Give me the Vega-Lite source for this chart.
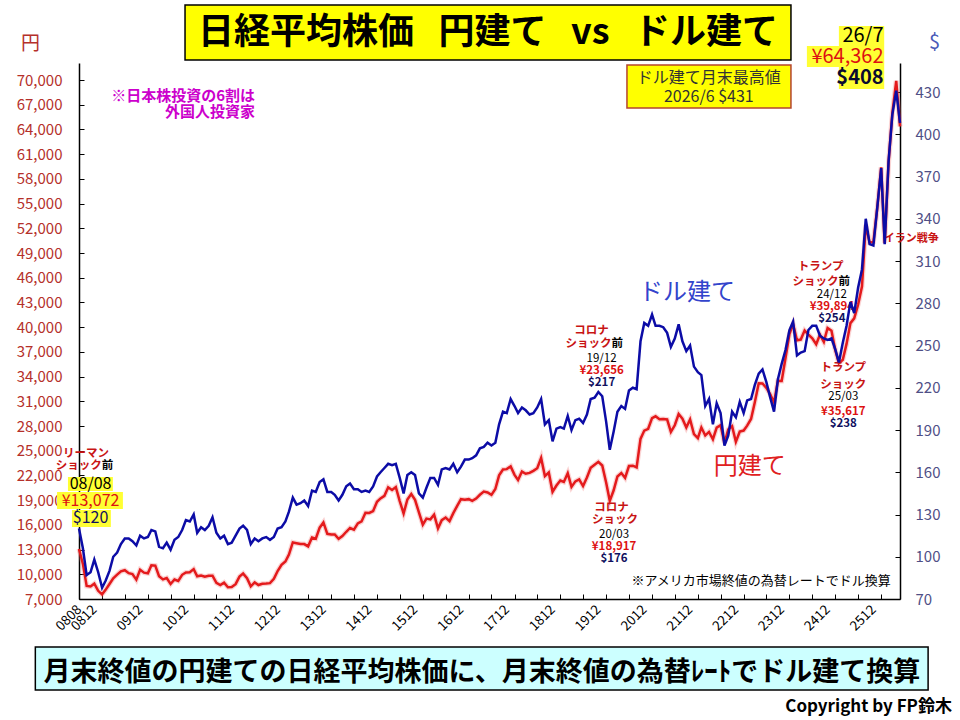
{
  "$schema": "https://vega.github.io/schema/vega-lite/v6.json",
  "width": 821,
  "height": 536,
  "autosize": {"type": "none"},
  "padding": {"left": 79, "top": 63, "right": 60, "bottom": 121},
  "background": "white",
  "config": {
    "view": {"stroke": null},
    "font": "Noto Sans CJK JP",
    "axis": {"labelFont": "Noto Sans CJK JP", "titleFont": "Noto Sans CJK JP"}
  },
  "datasets": {
    "nikkei": [
      {"date": "2008/08/01", "yen": 13072, "usd": 120},
      {"date": "2008/09/01", "yen": 11260, "usd": 106},
      {"date": "2008/10/01", "yen": 8577, "usd": 87},
      {"date": "2008/11/01", "yen": 8512, "usd": 89},
      {"date": "2008/12/01", "yen": 8860, "usd": 98},
      {"date": "2009/01/01", "yen": 7994, "usd": 89},
      {"date": "2009/02/01", "yen": 7568, "usd": 78},
      {"date": "2009/03/01", "yen": 8110, "usd": 83},
      {"date": "2009/04/01", "yen": 8828, "usd": 90},
      {"date": "2009/05/01", "yen": 9523, "usd": 100},
      {"date": "2009/06/01", "yen": 9958, "usd": 103},
      {"date": "2009/07/01", "yen": 10357, "usd": 109},
      {"date": "2009/08/01", "yen": 10493, "usd": 113},
      {"date": "2009/09/01", "yen": 10133, "usd": 113},
      {"date": "2009/10/01", "yen": 10035, "usd": 111},
      {"date": "2009/11/01", "yen": 9345, "usd": 108},
      {"date": "2009/12/01", "yen": 10546, "usd": 115},
      {"date": "2010/01/01", "yen": 10198, "usd": 113},
      {"date": "2010/02/01", "yen": 10126, "usd": 114},
      {"date": "2010/03/01", "yen": 11090, "usd": 119},
      {"date": "2010/04/01", "yen": 11057, "usd": 118},
      {"date": "2010/05/01", "yen": 9768, "usd": 107},
      {"date": "2010/06/01", "yen": 9383, "usd": 106},
      {"date": "2010/07/01", "yen": 9537, "usd": 110},
      {"date": "2010/08/01", "yen": 8824, "usd": 105},
      {"date": "2010/09/01", "yen": 9369, "usd": 112},
      {"date": "2010/10/01", "yen": 9202, "usd": 114},
      {"date": "2010/11/01", "yen": 9937, "usd": 119},
      {"date": "2010/12/01", "yen": 10229, "usd": 126},
      {"date": "2011/01/01", "yen": 10238, "usd": 125},
      {"date": "2011/02/01", "yen": 10624, "usd": 130},
      {"date": "2011/03/01", "yen": 9755, "usd": 117},
      {"date": "2011/04/01", "yen": 9850, "usd": 121},
      {"date": "2011/05/01", "yen": 9694, "usd": 119},
      {"date": "2011/06/01", "yen": 9816, "usd": 122},
      {"date": "2011/07/01", "yen": 9833, "usd": 128},
      {"date": "2011/08/01", "yen": 8955, "usd": 117},
      {"date": "2011/09/01", "yen": 8700, "usd": 113},
      {"date": "2011/10/01", "yen": 8988, "usd": 115},
      {"date": "2011/11/01", "yen": 8434, "usd": 109},
      {"date": "2011/12/01", "yen": 8455, "usd": 110},
      {"date": "2012/01/01", "yen": 8803, "usd": 115},
      {"date": "2012/02/01", "yen": 9723, "usd": 120},
      {"date": "2012/03/01", "yen": 10084, "usd": 122},
      {"date": "2012/04/01", "yen": 9521, "usd": 119},
      {"date": "2012/05/01", "yen": 8543, "usd": 109},
      {"date": "2012/06/01", "yen": 9007, "usd": 113},
      {"date": "2012/07/01", "yen": 8695, "usd": 111},
      {"date": "2012/08/01", "yen": 8840, "usd": 113},
      {"date": "2012/09/01", "yen": 8870, "usd": 114},
      {"date": "2012/10/01", "yen": 8928, "usd": 112},
      {"date": "2012/11/01", "yen": 9446, "usd": 114},
      {"date": "2012/12/01", "yen": 10395, "usd": 120},
      {"date": "2013/01/01", "yen": 11139, "usd": 121},
      {"date": "2013/02/01", "yen": 11559, "usd": 125},
      {"date": "2013/03/01", "yen": 12398, "usd": 132},
      {"date": "2013/04/01", "yen": 13861, "usd": 142},
      {"date": "2013/05/01", "yen": 13775, "usd": 137},
      {"date": "2013/06/01", "yen": 13677, "usd": 138},
      {"date": "2013/07/01", "yen": 13668, "usd": 140},
      {"date": "2013/08/01", "yen": 13389, "usd": 136},
      {"date": "2013/09/01", "yen": 14456, "usd": 147},
      {"date": "2013/10/01", "yen": 14328, "usd": 146},
      {"date": "2013/11/01", "yen": 15662, "usd": 153},
      {"date": "2013/12/01", "yen": 16291, "usd": 155},
      {"date": "2014/01/01", "yen": 14915, "usd": 146},
      {"date": "2014/02/01", "yen": 14841, "usd": 146},
      {"date": "2014/03/01", "yen": 14828, "usd": 144},
      {"date": "2014/04/01", "yen": 14304, "usd": 140},
      {"date": "2014/05/01", "yen": 14632, "usd": 144},
      {"date": "2014/06/01", "yen": 15162, "usd": 150},
      {"date": "2014/07/01", "yen": 15621, "usd": 152},
      {"date": "2014/08/01", "yen": 15425, "usd": 148},
      {"date": "2014/09/01", "yen": 16174, "usd": 148},
      {"date": "2014/10/01", "yen": 16414, "usd": 146},
      {"date": "2014/11/01", "yen": 17460, "usd": 147},
      {"date": "2014/12/01", "yen": 17451, "usd": 146},
      {"date": "2015/01/01", "yen": 17674, "usd": 150},
      {"date": "2015/02/01", "yen": 18798, "usd": 157},
      {"date": "2015/03/01", "yen": 19207, "usd": 160},
      {"date": "2015/04/01", "yen": 19520, "usd": 163},
      {"date": "2015/05/01", "yen": 20563, "usd": 166},
      {"date": "2015/06/01", "yen": 20236, "usd": 165},
      {"date": "2015/07/01", "yen": 20585, "usd": 166},
      {"date": "2015/08/01", "yen": 18890, "usd": 156},
      {"date": "2015/09/01", "yen": 17388, "usd": 145},
      {"date": "2015/10/01", "yen": 19083, "usd": 158},
      {"date": "2015/11/01", "yen": 19747, "usd": 160},
      {"date": "2015/12/01", "yen": 19034, "usd": 158},
      {"date": "2016/01/01", "yen": 17518, "usd": 145},
      {"date": "2016/02/01", "yen": 16027, "usd": 142},
      {"date": "2016/03/01", "yen": 16759, "usd": 149},
      {"date": "2016/04/01", "yen": 16666, "usd": 156},
      {"date": "2016/05/01", "yen": 17235, "usd": 156},
      {"date": "2016/06/01", "yen": 15576, "usd": 151},
      {"date": "2016/07/01", "yen": 16569, "usd": 162},
      {"date": "2016/08/01", "yen": 16887, "usd": 163},
      {"date": "2016/09/01", "yen": 16450, "usd": 162},
      {"date": "2016/10/01", "yen": 17425, "usd": 166},
      {"date": "2016/11/01", "yen": 18308, "usd": 160},
      {"date": "2016/12/01", "yen": 19114, "usd": 164},
      {"date": "2017/01/01", "yen": 19041, "usd": 169},
      {"date": "2017/02/01", "yen": 19119, "usd": 169},
      {"date": "2017/03/01", "yen": 18909, "usd": 170},
      {"date": "2017/04/01", "yen": 19197, "usd": 172},
      {"date": "2017/05/01", "yen": 19651, "usd": 177},
      {"date": "2017/06/01", "yen": 20033, "usd": 178},
      {"date": "2017/07/01", "yen": 19925, "usd": 181},
      {"date": "2017/08/01", "yen": 19646, "usd": 179},
      {"date": "2017/09/01", "yen": 20356, "usd": 181},
      {"date": "2017/10/01", "yen": 22012, "usd": 194},
      {"date": "2017/11/01", "yen": 22725, "usd": 203},
      {"date": "2017/12/01", "yen": 22765, "usd": 202},
      {"date": "2018/01/01", "yen": 23098, "usd": 212},
      {"date": "2018/02/01", "yen": 22068, "usd": 207},
      {"date": "2018/03/01", "yen": 21454, "usd": 202},
      {"date": "2018/04/01", "yen": 22468, "usd": 206},
      {"date": "2018/05/01", "yen": 22202, "usd": 204},
      {"date": "2018/06/01", "yen": 22305, "usd": 201},
      {"date": "2018/07/01", "yen": 22554, "usd": 202},
      {"date": "2018/08/01", "yen": 22865, "usd": 206},
      {"date": "2018/09/01", "yen": 24120, "usd": 212},
      {"date": "2018/10/01", "yen": 21920, "usd": 194},
      {"date": "2018/11/01", "yen": 22351, "usd": 197},
      {"date": "2018/12/01", "yen": 20015, "usd": 182},
      {"date": "2019/01/01", "yen": 20773, "usd": 191},
      {"date": "2019/02/01", "yen": 21385, "usd": 192},
      {"date": "2019/03/01", "yen": 21206, "usd": 191},
      {"date": "2019/04/01", "yen": 22259, "usd": 200},
      {"date": "2019/05/01", "yen": 20601, "usd": 190},
      {"date": "2019/06/01", "yen": 21276, "usd": 197},
      {"date": "2019/07/01", "yen": 21522, "usd": 198},
      {"date": "2019/08/01", "yen": 20704, "usd": 195},
      {"date": "2019/09/01", "yen": 21756, "usd": 201},
      {"date": "2019/10/01", "yen": 22927, "usd": 212},
      {"date": "2019/11/01", "yen": 23294, "usd": 213},
      {"date": "2019/12/01", "yen": 23656, "usd": 217},
      {"date": "2020/01/01", "yen": 23205, "usd": 214},
      {"date": "2020/02/01", "yen": 21143, "usd": 196},
      {"date": "2020/03/01", "yen": 18917, "usd": 176},
      {"date": "2020/04/01", "yen": 20194, "usd": 189},
      {"date": "2020/05/01", "yen": 21878, "usd": 203},
      {"date": "2020/06/01", "yen": 22288, "usd": 207},
      {"date": "2020/07/01", "yen": 21710, "usd": 205},
      {"date": "2020/08/01", "yen": 23140, "usd": 218},
      {"date": "2020/09/01", "yen": 23185, "usd": 220},
      {"date": "2020/10/01", "yen": 22977, "usd": 219},
      {"date": "2020/11/01", "yen": 26434, "usd": 253},
      {"date": "2020/12/01", "yen": 27444, "usd": 266},
      {"date": "2021/01/01", "yen": 27663, "usd": 264},
      {"date": "2021/02/01", "yen": 28966, "usd": 272},
      {"date": "2021/03/01", "yen": 29179, "usd": 264},
      {"date": "2021/04/01", "yen": 28813, "usd": 264},
      {"date": "2021/05/01", "yen": 28860, "usd": 263},
      {"date": "2021/06/01", "yen": 28792, "usd": 259},
      {"date": "2021/07/01", "yen": 27284, "usd": 249},
      {"date": "2021/08/01", "yen": 28090, "usd": 255},
      {"date": "2021/09/01", "yen": 29453, "usd": 265},
      {"date": "2021/10/01", "yen": 28893, "usd": 253},
      {"date": "2021/11/01", "yen": 27822, "usd": 246},
      {"date": "2021/12/01", "yen": 28792, "usd": 250},
      {"date": "2022/01/01", "yen": 27002, "usd": 235},
      {"date": "2022/02/01", "yen": 26527, "usd": 231},
      {"date": "2022/03/01", "yen": 27821, "usd": 229},
      {"date": "2022/04/01", "yen": 26848, "usd": 207},
      {"date": "2022/05/01", "yen": 27280, "usd": 212},
      {"date": "2022/06/01", "yen": 26393, "usd": 194},
      {"date": "2022/07/01", "yen": 27802, "usd": 209},
      {"date": "2022/08/01", "yen": 28092, "usd": 202},
      {"date": "2022/09/01", "yen": 25937, "usd": 179},
      {"date": "2022/10/01", "yen": 27587, "usd": 186},
      {"date": "2022/11/01", "yen": 27969, "usd": 203},
      {"date": "2022/12/01", "yen": 26095, "usd": 199},
      {"date": "2023/01/01", "yen": 27327, "usd": 210},
      {"date": "2023/02/01", "yen": 27446, "usd": 202},
      {"date": "2023/03/01", "yen": 28041, "usd": 211},
      {"date": "2023/04/01", "yen": 28856, "usd": 212},
      {"date": "2023/05/01", "yen": 30888, "usd": 222},
      {"date": "2023/06/01", "yen": 33189, "usd": 230},
      {"date": "2023/07/01", "yen": 33172, "usd": 233},
      {"date": "2023/08/01", "yen": 32619, "usd": 224},
      {"date": "2023/09/01", "yen": 31858, "usd": 213},
      {"date": "2023/10/01", "yen": 30859, "usd": 203},
      {"date": "2023/11/01", "yen": 33487, "usd": 226},
      {"date": "2023/12/01", "yen": 33464, "usd": 237},
      {"date": "2024/01/01", "yen": 36287, "usd": 247},
      {"date": "2024/02/01", "yen": 39166, "usd": 261},
      {"date": "2024/03/01", "yen": 40369, "usd": 267},
      {"date": "2024/04/01", "yen": 38406, "usd": 243},
      {"date": "2024/05/01", "yen": 38488, "usd": 245},
      {"date": "2024/06/01", "yen": 39583, "usd": 246},
      {"date": "2024/07/01", "yen": 39102, "usd": 261},
      {"date": "2024/08/01", "yen": 38648, "usd": 264},
      {"date": "2024/09/01", "yen": 37920, "usd": 264},
      {"date": "2024/10/01", "yen": 39081, "usd": 257},
      {"date": "2024/11/01", "yen": 38208, "usd": 255},
      {"date": "2024/12/01", "yen": 39894, "usd": 254},
      {"date": "2025/01/01", "yen": 39572, "usd": 255},
      {"date": "2025/02/01", "yen": 37156, "usd": 247},
      {"date": "2025/03/01", "yen": 35617, "usd": 238},
      {"date": "2025/04/01", "yen": 36045, "usd": 252},
      {"date": "2025/05/01", "yen": 37965, "usd": 264},
      {"date": "2025/06/01", "yen": 40487, "usd": 281},
      {"date": "2025/07/01", "yen": 41070, "usd": 273},
      {"date": "2025/08/01", "yen": 42718, "usd": 291},
      {"date": "2025/09/01", "yen": 44933, "usd": 304},
      {"date": "2025/10/01", "yen": 52411, "usd": 340},
      {"date": "2025/11/01", "yen": 50254, "usd": 322},
      {"date": "2025/12/01", "yen": 50339, "usd": 321},
      {"date": "2026/01/01", "yen": 54500, "usd": 348},
      {"date": "2026/02/01", "yen": 59400, "usd": 376},
      {"date": "2026/03/01", "yen": 50200, "usd": 322},
      {"date": "2026/04/01", "yen": 60000, "usd": 381},
      {"date": "2026/05/01", "yen": 66000, "usd": 414},
      {"date": "2026/06/01", "yen": 69900, "usd": 431},
      {"date": "2026/07/01", "yen": 64362, "usd": 408}
    ]
  },
  "layer": [
    {
      "data": {"values": [{"start": "2010/11/24", "end": "2024/02/13", "top": 79112, "bottom": 72435}]},
      "mark": {"type": "rect", "fill": "#ffff00", "stroke": "#000000", "strokeWidth": 1.5},
      "encoding": {
        "x": {"field": "start", "type": "temporal", "axis": null},
        "x2": {"field": "end"},
        "y": {"field": "top", "type": "quantitative", "scale": {"domain": [7000, 72064]}, "axis": null},
        "y2": {"field": "bottom"}
      }
    },
    {
      "data": {"values": [{"start": "2020/07/16", "end": "2024/02/13", "top": 71828, "bottom": 66607}]},
      "mark": {"type": "rect", "fill": "#ffff00", "stroke": "#b5452e", "strokeWidth": 1.5},
      "encoding": {
        "x": {"field": "start", "type": "temporal", "axis": null},
        "x2": {"field": "end"},
        "y": {"field": "top", "type": "quantitative", "scale": {"domain": [7000, 72064]}, "axis": null},
        "y2": {"field": "bottom"}
      }
    },
    {
      "data": {"values": [
        {"start": "2025/03/01", "end": "2026/02/25", "top": 76562, "bottom": 74134},
        {"start": "2024/06/19", "end": "2026/02/25", "top": 74134, "bottom": 71585},
        {"start": "2025/03/01", "end": "2026/02/25", "top": 71585, "bottom": 68914},
        {"start": "2008/05/05", "end": "2009/04/28", "top": 21811, "bottom": 20111},
        {"start": "2008/02/08", "end": "2009/07/17", "top": 19990, "bottom": 17926},
        {"start": "2008/06/06", "end": "2009/04/12", "top": 17805, "bottom": 15741}
      ]},
      "mark": {"type": "rect", "fill": "#ffff33"},
      "encoding": {
        "x": {"field": "start", "type": "temporal", "axis": null},
        "x2": {"field": "end"},
        "y": {"field": "top", "type": "quantitative", "scale": {"domain": [7000, 72064]}, "axis": null},
        "y2": {"field": "bottom"}
      }
    },
    {
      "data": {"values": [{"start": "2007/08/19", "end": "2027/02/10", "top": 1173, "bottom": -4047}]},
      "mark": {"type": "rect", "fill": "#ccffff", "stroke": "#000000", "strokeWidth": 1.5},
      "encoding": {
        "x": {"field": "start", "type": "temporal", "axis": null},
        "x2": {"field": "end"},
        "y": {"field": "top", "type": "quantitative", "scale": {"domain": [7000, 72064]}, "axis": null},
        "y2": {"field": "bottom"}
      }
    },
    {
      "data": {"name": "nikkei"},
      "mark": {"type": "line", "color": "#f07070", "strokeWidth": 5, "opacity": 0.3},
      "encoding": {
        "x": {
          "field": "date",
          "type": "temporal",
          "scale": {"domain": [{"year": 2008, "month": 8, "date": 1}, {"year": 2026, "month": 7, "date": 1}]},
          "axis": {
            "orient": "bottom",
            "values": [
              {"year": 2008, "month": 8, "date": 1}, {"year": 2008, "month": 12, "date": 1},
              {"year": 2009, "month": 12, "date": 1}, {"year": 2010, "month": 12, "date": 1},
              {"year": 2011, "month": 12, "date": 1}, {"year": 2012, "month": 12, "date": 1},
              {"year": 2013, "month": 12, "date": 1}, {"year": 2014, "month": 12, "date": 1},
              {"year": 2015, "month": 12, "date": 1}, {"year": 2016, "month": 12, "date": 1},
              {"year": 2017, "month": 12, "date": 1}, {"year": 2018, "month": 12, "date": 1},
              {"year": 2019, "month": 12, "date": 1}, {"year": 2020, "month": 12, "date": 1},
              {"year": 2021, "month": 12, "date": 1}, {"year": 2022, "month": 12, "date": 1},
              {"year": 2023, "month": 12, "date": 1}, {"year": 2024, "month": 12, "date": 1},
              {"year": 2025, "month": 12, "date": 1}
            ],
            "format": "%y%m",
            "labelAngle": -45,
            "labelAlign": "right",
            "labelBaseline": "middle",
            "labelOverlap": false,
            "labelFlush": false,
            "labelFontSize": 13.5,
            "labelColor": "#000000",
            "labelPadding": 8,
            "ticks": false,
            "domainColor": "#000000",
            "domainWidth": 1.5,
            "grid": false,
            "title": null
          }
        },
        "y": {
          "field": "yen",
          "type": "quantitative",
          "scale": {"domain": [7000, 72064]},
          "axis": {
            "orient": "left",
            "values": [7000, 10000, 13000, 16000, 19000, 22000, 25000, 28000, 31000, 34000, 37000, 40000, 43000, 46000, 49000, 52000, 55000, 58000, 61000, 64000, 67000, 70000],
            "format": ",d",
            "labelColor": "#b5302a",
            "labelFontSize": 15,
            "labelPadding": 22,
            "tickSize": -5,
            "tickColor": "#000000",
            "domainColor": "#000000",
            "domainWidth": 1.5,
            "grid": false,
            "title": "円",
            "titleAngle": 0,
            "titleX": -49,
            "titleY": -20,
            "titleAlign": "center",
            "titleBaseline": "middle",
            "titleColor": "#b5302a",
            "titleFontSize": 19,
            "titleFontWeight": "normal"
          }
        }
      }
    },
    {
      "data": {"name": "nikkei"},
      "mark": {"type": "line", "color": "#e41a1c", "strokeWidth": 2.5},
      "encoding": {
        "x": {"field": "date", "type": "temporal", "axis": null},
        "y": {"field": "yen", "type": "quantitative", "scale": {"domain": [7000, 72064]}, "axis": null}
      }
    },
    {
      "data": {"values": [{"date": "2017/07/04", "value": 75712, "label": "日経平均株価\u00a0\u00a0\u00a0円建て\u00a0\u00a0\u00a0vs\u00a0\u00a0\u00a0ドル建て"}]},
      "mark": {"type": "text", "fontSize": 36, "fontWeight": "bold", "color": "#000000", "align": "center", "baseline": "middle"},
      "encoding": {
        "x": {"field": "date", "type": "temporal", "axis": null},
        "y": {"field": "value", "type": "quantitative", "scale": {"domain": [7000, 72064]}, "axis": null},
        "text": {"field": "label"}
      }
    },
    {
      "data": {"values": [
        {"date": "2022/04/29", "value": 70249, "label": "ドル建て月末最高値"},
        {"date": "2022/04/29", "value": 67943, "label": "2026/6 $431"}
      ]},
      "mark": {"type": "text", "fontSize": 16, "color": "#333333", "align": "center", "baseline": "middle"},
      "encoding": {
        "x": {"field": "date", "type": "temporal", "axis": null},
        "y": {"field": "value", "type": "quantitative", "scale": {"domain": [7000, 72064]}, "axis": null},
        "text": {"field": "label"}
      }
    },
    {
      "data": {"values": [
        {"date": "2026/02/20", "value": 75348, "label": "26/7", "kind": "date"},
        {"date": "2026/02/20", "value": 72799, "label": "¥64,362", "kind": "yen"}
      ]},
      "mark": {"type": "text", "fontSize": 20, "align": "right", "baseline": "middle"},
      "encoding": {
        "x": {"field": "date", "type": "temporal", "axis": null},
        "y": {"field": "value", "type": "quantitative", "scale": {"domain": [7000, 72064]}, "axis": null},
        "text": {"field": "label"},
        "color": {"field": "kind", "type": "nominal", "scale": {"domain": ["date", "yen", "usd"], "range": ["#000000", "#dd1111", "#101060"]}, "legend": null}
      }
    },
    {
      "data": {"values": [{"date": "2026/02/20", "value": 70249, "label": "$408"}]},
      "mark": {"type": "text", "fontSize": 20, "fontWeight": "bold", "color": "#0a0a30", "align": "right", "baseline": "middle"},
      "encoding": {
        "x": {"field": "date", "type": "temporal", "axis": null},
        "y": {"field": "value", "type": "quantitative", "scale": {"domain": [7000, 72064]}, "axis": null},
        "text": {"field": "label"}
      }
    },
    {
      "data": {"values": [
        {"date": "2008/11/01", "value": 20961, "label": "08/08", "kind": "date"},
        {"date": "2008/11/01", "value": 18897, "label": "¥13,072", "kind": "yen"},
        {"date": "2008/11/01", "value": 16833, "label": "$120", "kind": "usd"}
      ]},
      "mark": {"type": "text", "fontSize": 16, "align": "center", "baseline": "middle"},
      "encoding": {
        "x": {"field": "date", "type": "temporal", "axis": null},
        "y": {"field": "value", "type": "quantitative", "scale": {"domain": [7000, 72064]}, "axis": null},
        "text": {"field": "label"},
        "color": {"field": "kind", "type": "nominal", "scale": {"domain": ["date", "yen", "usd"], "range": ["#000000", "#dd1111", "#101060"]}, "legend": null}
      }
    },
    {
      "data": {"values": [
        {"date": "2019/12/27", "value": 36136, "label": "19/12"},
        {"date": "2020/04/04", "value": 14770, "label": "20/03"},
        {"date": "2025/01/04", "value": 43906, "label": "24/12"},
        {"date": "2025/04/05", "value": 31523, "label": "25/03"}
      ]},
      "mark": {"type": "text", "fontSize": 11.5, "color": "#000000", "align": "center", "baseline": "middle"},
      "encoding": {
        "x": {"field": "date", "type": "temporal", "axis": null},
        "y": {"field": "value", "type": "quantitative", "scale": {"domain": [7000, 72064]}, "axis": null},
        "text": {"field": "label"}
      }
    },
    {
      "data": {"values": [
        {"date": "2019/12/27", "value": 34679, "label": "¥23,656", "kind": "yen"},
        {"date": "2019/12/27", "value": 33223, "label": "$217", "kind": "usd"},
        {"date": "2020/04/04", "value": 13313, "label": "¥18,917", "kind": "yen"},
        {"date": "2020/04/04", "value": 11856, "label": "$176", "kind": "usd"},
        {"date": "2025/01/04", "value": 42449, "label": "¥39,894", "kind": "yen"},
        {"date": "2025/01/04", "value": 40992, "label": "$254", "kind": "usd"},
        {"date": "2025/04/05", "value": 29702, "label": "¥35,617", "kind": "yen"},
        {"date": "2025/04/05", "value": 28245, "label": "$238", "kind": "usd"}
      ]},
      "mark": {"type": "text", "fontSize": 11.5, "fontWeight": "bold", "align": "center", "baseline": "middle"},
      "encoding": {
        "x": {"field": "date", "type": "temporal", "axis": null},
        "y": {"field": "value", "type": "quantitative", "scale": {"domain": [7000, 72064]}, "axis": null},
        "text": {"field": "label"},
        "color": {"field": "kind", "type": "nominal", "scale": {"domain": ["date", "yen", "usd"], "range": ["#000000", "#dd1111", "#101060"]}, "legend": null}
      }
    },
    {
      "data": {"values": [
        {"date": "2008/09/26", "value": 24603, "label": "リーマン"},
        {"date": "2019/10/08", "value": 39535, "label": "コロナ"},
        {"date": "2020/03/15", "value": 18047, "label": "コロナ"},
        {"date": "2020/04/11", "value": 16591, "label": "ショック"},
        {"date": "2024/10/07", "value": 47305, "label": "トランプ"},
        {"date": "2025/04/05", "value": 35043, "label": "トランプ"},
        {"date": "2025/04/05", "value": 32980, "label": "ショック"}
      ]},
      "mark": {"type": "text", "fontSize": 11.5, "fontWeight": "bold", "color": "#c81414", "align": "center", "baseline": "middle"},
      "encoding": {
        "x": {"field": "date", "type": "temporal", "axis": null},
        "y": {"field": "value", "type": "quantitative", "scale": {"domain": [7000, 72064]}, "axis": null},
        "text": {"field": "label"}
      }
    },
    {
      "data": {"values": [
        {"date": "2009/01/29", "value": 23146, "label": "ショック"},
        {"date": "2020/03/15", "value": 37957, "label": "ショック"},
        {"date": "2025/02/25", "value": 45484, "label": "ショック"}
      ]},
      "mark": {"type": "text", "fontSize": 11.5, "fontWeight": "bold", "color": "#c81414", "align": "right", "baseline": "middle"},
      "encoding": {
        "x": {"field": "date", "type": "temporal", "axis": null},
        "y": {"field": "value", "type": "quantitative", "scale": {"domain": [7000, 72064]}, "axis": null},
        "text": {"field": "label"}
      }
    },
    {
      "data": {"values": [
        {"date": "2009/01/29", "value": 23146, "label": "前"},
        {"date": "2020/03/15", "value": 37957, "label": "前"},
        {"date": "2025/02/25", "value": 45484, "label": "前"}
      ]},
      "mark": {"type": "text", "fontSize": 11.5, "fontWeight": "bold", "color": "#000000", "align": "left", "baseline": "middle"},
      "encoding": {
        "x": {"field": "date", "type": "temporal", "axis": null},
        "y": {"field": "value", "type": "quantitative", "scale": {"domain": [7000, 72064]}, "axis": null},
        "text": {"field": "label"}
      }
    },
    {
      "data": {"values": [{"date": "2026/02/22", "value": 50704, "label": "イラン戦争"}]},
      "mark": {"type": "text", "fontSize": 11, "fontWeight": "bold", "color": "#c81414", "align": "left", "baseline": "middle"},
      "encoding": {
        "x": {"field": "date", "type": "temporal", "axis": null},
        "y": {"field": "value", "type": "quantitative", "scale": {"domain": [7000, 72064]}, "axis": null},
        "text": {"field": "label"}
      }
    },
    {
      "data": {"values": [
        {"date": "2012/06/04", "value": 68064, "label": "※日本株投資の6割は"},
        {"date": "2012/06/04", "value": 66122, "label": "外国人投資家"}
      ]},
      "mark": {"type": "text", "fontSize": 15, "fontWeight": "bold", "color": "#cc00cc", "align": "right", "baseline": "middle"},
      "encoding": {
        "x": {"field": "date", "type": "temporal", "axis": null},
        "y": {"field": "value", "type": "quantitative", "scale": {"domain": [7000, 72064]}, "axis": null},
        "text": {"field": "label"}
      }
    },
    {
      "data": {"values": [{"date": "2021/11/07", "value": 44148, "label": "ドル建て"}]},
      "mark": {"type": "text", "fontSize": 24, "color": "#3344cc", "align": "center", "baseline": "middle"},
      "encoding": {
        "x": {"field": "date", "type": "temporal", "axis": null},
        "y": {"field": "value", "type": "quantitative", "scale": {"domain": [7000, 72064]}, "axis": null},
        "text": {"field": "label"}
      }
    },
    {
      "data": {"values": [{"date": "2023/03/22", "value": 23025, "label": "円建て"}]},
      "mark": {"type": "text", "fontSize": 24, "color": "#e02020", "align": "center", "baseline": "middle"},
      "encoding": {
        "x": {"field": "date", "type": "temporal", "axis": null},
        "y": {"field": "value", "type": "quantitative", "scale": {"domain": [7000, 72064]}, "axis": null},
        "text": {"field": "label"}
      }
    },
    {
      "data": {"values": [{"date": "2026/04/19", "value": 9185, "label": "※アメリカ市場終値の為替レートでドル換算"}]},
      "mark": {"type": "text", "fontSize": 13, "color": "#000000", "align": "right", "baseline": "middle"},
      "encoding": {
        "x": {"field": "date", "type": "temporal", "axis": null},
        "y": {"field": "value", "type": "quantitative", "scale": {"domain": [7000, 72064]}, "axis": null},
        "text": {"field": "label"}
      }
    },
    {
      "data": {"values": [{"date": "2017/05/16", "value": -1984, "label": "月末終値の円建ての日経平均株価に、月末終値の為替ﾚｰﾄでドル建て換算"}]},
      "mark": {"type": "text", "fontSize": 27, "fontWeight": "bold", "color": "#000000", "align": "center", "baseline": "middle"},
      "encoding": {
        "x": {"field": "date", "type": "temporal", "axis": null},
        "y": {"field": "value", "type": "quantitative", "scale": {"domain": [7000, 72064]}, "axis": null},
        "text": {"field": "label"}
      }
    },
    {
      "data": {"values": [{"date": "2027/08/19", "value": -6111, "label": "Copyright by FP鈴木"}]},
      "mark": {"type": "text", "fontSize": 17, "fontWeight": "bold", "color": "#000000", "align": "right", "baseline": "middle"},
      "encoding": {
        "x": {"field": "date", "type": "temporal", "axis": null},
        "y": {"field": "value", "type": "quantitative", "scale": {"domain": [7000, 72064]}, "axis": null},
        "text": {"field": "label"}
      }
    },
    {
      "data": {"name": "nikkei"},
      "mark": {"type": "line", "color": "#0c0ca6", "strokeWidth": 2.5},
      "encoding": {
        "x": {
          "field": "date",
          "type": "temporal",
          "axis": {
            "orient": "bottom",
            "values": [
              {"year": 2008, "month": 8, "date": 1}, {"year": 2009, "month": 2, "date": 1},
              {"year": 2009, "month": 8, "date": 1}, {"year": 2010, "month": 2, "date": 1},
              {"year": 2010, "month": 8, "date": 1}, {"year": 2011, "month": 2, "date": 1},
              {"year": 2011, "month": 8, "date": 1}, {"year": 2012, "month": 2, "date": 1},
              {"year": 2012, "month": 8, "date": 1}, {"year": 2013, "month": 2, "date": 1},
              {"year": 2013, "month": 8, "date": 1}, {"year": 2014, "month": 2, "date": 1},
              {"year": 2014, "month": 8, "date": 1}, {"year": 2015, "month": 2, "date": 1},
              {"year": 2015, "month": 8, "date": 1}, {"year": 2016, "month": 2, "date": 1},
              {"year": 2016, "month": 8, "date": 1}, {"year": 2017, "month": 2, "date": 1},
              {"year": 2017, "month": 8, "date": 1}, {"year": 2018, "month": 2, "date": 1},
              {"year": 2018, "month": 8, "date": 1}, {"year": 2019, "month": 2, "date": 1},
              {"year": 2019, "month": 8, "date": 1}, {"year": 2020, "month": 2, "date": 1},
              {"year": 2020, "month": 8, "date": 1}, {"year": 2021, "month": 2, "date": 1},
              {"year": 2021, "month": 8, "date": 1}, {"year": 2022, "month": 2, "date": 1},
              {"year": 2022, "month": 8, "date": 1}, {"year": 2023, "month": 2, "date": 1},
              {"year": 2023, "month": 8, "date": 1}, {"year": 2024, "month": 2, "date": 1},
              {"year": 2024, "month": 8, "date": 1}, {"year": 2025, "month": 2, "date": 1},
              {"year": 2025, "month": 8, "date": 1}, {"year": 2026, "month": 2, "date": 1}
            ],
            "labels": false,
            "ticks": true,
            "tickSize": -5,
            "tickColor": "#000000",
            "domain": false,
            "grid": false,
            "title": null
          }
        },
        "y": {
          "field": "usd",
          "type": "quantitative",
          "scale": {"domain": [70, 450.6]},
          "axis": {
            "orient": "right",
            "values": [70, 100, 130, 160, 190, 220, 250, 280, 310, 340, 370, 400, 430],
            "labelColor": "#4f4f86",
            "labelFontSize": 15,
            "labelPadding": 20,
            "tickSize": -5,
            "tickColor": "#000000",
            "domainColor": "#000000",
            "domainWidth": 1.5,
            "grid": false,
            "title": "$",
            "titleAngle": 0,
            "titleX": 34,
            "titleY": -21,
            "titleAlign": "center",
            "titleBaseline": "middle",
            "titleColor": "#4a5ab8",
            "titleFontSize": 20,
            "titleFontWeight": "normal"
          }
        }
      }
    }
  ],
  "resolve": {"scale": {"y": "independent"}, "axis": {"x": "independent"}}
}
